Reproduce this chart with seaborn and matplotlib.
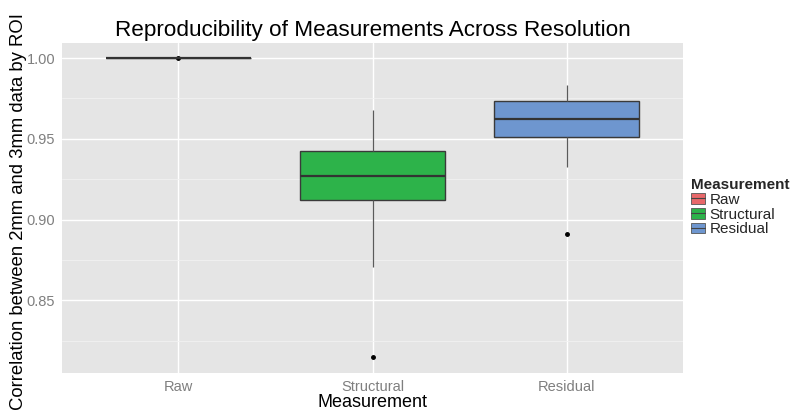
import matplotlib
matplotlib.use("Agg")
import matplotlib.pyplot as plt
import seaborn as sns
import pandas as pd
import numpy as np
from matplotlib.patches import Patch
from matplotlib.lines import Line2D
from matplotlib.legend_handler import HandlerTuple

categories = ["Raw", "Structural", "Residual"]
colors = ["#E8686A", "#2DB34A", "#6E96CF"]

# Values (sorted samples reproducing the box statistics)
raw_vals = [0.99995, 1.0, 1.0, 1.0, 1.0, 1.0, 1.0, 1.0, 1.0]
structural_vals = [0.815, 0.8706, 0.9123, 0.920, 0.9267, 0.934, 0.9422, 0.955, 0.968]
residual_vals = [0.8912, 0.9323, 0.9508, 0.956, 0.9623, 0.968, 0.9736, 0.978, 0.9833]

yticks = [0.85, 0.90, 0.95, 1.00]
ytick_labels = ["0.85", "0.90", "0.95", "1.00"]
minor_ticks = [0.825, 0.875, 0.925, 0.975]

df = pd.DataFrame({
    "Measurement": (["Raw"] * len(raw_vals) + ["Structural"] * len(structural_vals)
                    + ["Residual"] * len(residual_vals)),
    "value": raw_vals + structural_vals + residual_vals,
})

sns.set_theme(style="darkgrid")
plt.rcParams["font.family"] = ["Liberation Sans", "DejaVu Sans"]

fig = plt.figure(figsize=(8, 4.18), dpi=100)
ax = fig.add_axes([62 / 800, 1 - 373 / 418, (683 - 62) / 800, (373 - 43) / 418])
ax.set_facecolor("#E5E5E5")

sns.boxplot(data=df, x="Measurement", y="value", hue="Measurement",
            order=categories, hue_order=categories, palette=colors,
            width=0.75, linewidth=1.0, linecolor="#3A3A3A", saturation=1,
            whis=1.5, legend=False, ax=ax,
            flierprops=dict(marker="o", markersize=2.5, markerfacecolor="black",
                            markeredgecolor="black"),
            medianprops=dict(linewidth=1.6, color="#333333"),
            whiskerprops=dict(color="#5A5A5A", linewidth=0.9),
            capprops=dict(linewidth=0))

ax.set_ylim(0.805, 1.0093)
ax.set_xlim(-0.6, 2.6)
ax.set_yticks(yticks)
ax.set_yticklabels(ytick_labels)
ax.set_yticks(minor_ticks, minor=True)
ax.grid(True, which="major", color="white", linewidth=1.0)
ax.grid(True, which="minor", axis="y", color="#F2F2F2", linewidth=0.6)
ax.set_axisbelow(True)
for s in ax.spines.values():
    s.set_visible(False)
ax.tick_params(axis="both", which="major", length=3, width=0.8, color="#7F7F7F",
               labelcolor="#7F7F7F", labelsize=10.5, pad=2, direction="out")
ax.tick_params(axis="y", which="minor", length=0)

ax.set_xlabel("Measurement", fontsize=13, color="black", labelpad=0)
ax.set_ylabel("Correlation between 2mm and 3mm data by ROI", fontsize=13.3,
              color="black")
ax.yaxis.set_label_coords((27 - 62) / 621, 0.49)
ax.set_title("Reproducibility of Measurements Across Resolution", fontsize=16.2,
             color="black", pad=5)

handles = [(Patch(facecolor=c, edgecolor="#555555", linewidth=0.6),
            Line2D([], [], color="#444444", linewidth=0.8))
           for c in colors]
leg = fig.legend(handles=handles, labels=categories, title="Measurement",
                 loc="upper left", handler_map={tuple: HandlerTuple(ndivide=1, pad=0)},
                 bbox_to_anchor=(688 / 800, 1 - 175 / 418), frameon=False,
                 fontsize=11, title_fontsize=11, handlelength=0.9,
                 handleheight=0.7, handletextpad=0.3, labelspacing=0.05,
                 borderaxespad=0, borderpad=0.2)
leg.get_title().set_fontweight("bold")
leg._legend_box.align = "left"

fig.savefig("out.png", dpi=100)
